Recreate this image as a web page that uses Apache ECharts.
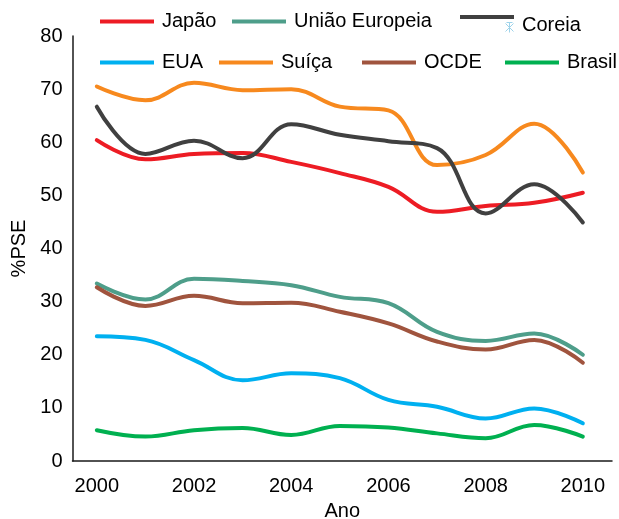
<!DOCTYPE html>
<html>
<head>
<meta charset="utf-8">
<script src="https://cdn.jsdelivr.net/npm/echarts@6/dist/echarts.min.js"></script>
<style>
  html, body { margin: 0; padding: 0; background: #fff; }
  #chart { width: 619px; height: 519px; }
</style>
</head>
<body>
<div id="chart"></div>
<script>
// Producer Support Estimate (%PSE) by country, 2000–2010
const years = [2000, 2001, 2002, 2003, 2004, 2005, 2006, 2007, 2008, 2009, 2010];

const japao   = [60.4, 56.8, 57.8, 58.0, 56.3, 54.2, 51.6, 46.9, 48.0, 48.6, 50.5];
const uniaoEu = [33.4, 30.4, 34.3, 33.9, 33.1, 30.9, 29.7, 24.3, 22.6, 24.0, 20.0];
const coreia  = [66.7, 57.8, 60.3, 57.0, 63.4, 61.4, 60.2, 58.9, 46.6, 52.1, 44.9];
const eua     = [23.5, 22.8, 19.0, 15.2, 16.5, 15.6, 11.5, 10.2, 8.0, 9.9, 7.1];
const suica   = [70.5, 67.9, 71.2, 69.8, 70.0, 66.7, 66.0, 55.7, 57.6, 63.5, 54.3];
const ocde    = [32.7, 29.2, 31.1, 29.7, 29.8, 28.1, 25.9, 22.5, 21.0, 22.8, 18.5];
const brasil  = [5.8, 4.6, 5.8, 6.2, 4.9, 6.6, 6.3, 5.2, 4.3, 6.8, 4.6];

const yTicks = [0, 10, 20, 30, 40, 50, 60, 70, 80];
const xTickYears = [2000, 2002, 2004, 2006, 2008, 2010];

const seriesDefs = [
  { name: 'Japão', values: japao, color: '#ED1C24' },
  { name: 'União Europeia', values: uniaoEu, color: '#4E9E8A' },
  { name: 'EUA', values: eua, color: '#00B0F0' },
  { name: 'Suíça', values: suica, color: '#F7891E' },
  { name: 'OCDE', values: ocde, color: '#A0543E' },
  { name: 'Brasil', values: brasil, color: '#00B050' },
  { name: 'Coreia', values: coreia, color: '#404040' }
];

const FONT = '"Liberation Sans", Arial, sans-serif';

// key line for the Coreia entry sits above its label: the path's box is
// 21 units tall with the bar at the top, so the label centres lower down
const coreiaIcon = 'path://M0,0L54,0L54,4L0,4Z M47,21L47,21';

// one legend block per entry, laid out in two rows
const legendSlots = [
  { name: 'Japão', left: 100, lineY: 21.5 },
  { name: 'União Europeia', left: 232, lineY: 21.5 },
  { name: 'Coreia', left: 460, lineY: 17, icon: coreiaIcon, iconH: 21 },
  { name: 'EUA', left: 100, lineY: 62.5 },
  { name: 'Suíça', left: 219, lineY: 62.5 },
  { name: 'OCDE', left: 362, lineY: 62.5 },
  { name: 'Brasil', left: 505, lineY: 62.5 }
];

const legends = legendSlots.map(s => {
  const common = {
    data: [s.name],
    left: s.left,
    padding: 0,
    selectedMode: false,
    itemStyle: { borderWidth: 0 },
    textStyle: {
      fontFamily: FONT,
      fontSize: 20,
      color: '#000',
      lineHeight: 20,
      padding: [0, 0, 0, 3]
    }
  };
  if (s.icon) {
    return Object.assign(common, {
      icon: s.icon,
      itemWidth: 54,
      itemHeight: s.iconH,
      top: s.lineY - 2
    });
  }
  return Object.assign(common, {
    icon: 'rect',
    itemWidth: 54,
    itemHeight: 4,
    top: s.lineY - 10
  });
});

const chart = echarts.init(document.getElementById('chart'), null, { renderer: 'canvas' });

chart.setOption({
  animation: false,
  backgroundColor: '#fff',
  legend: legends,
  grid: {
    left: 72.5, right: 7, top: 36, bottom: 58,
    containLabel: false,
    outerBoundsMode: 'none'
  },
  xAxis: {
    type: 'value',
    min: 1999.5,
    max: 2010.6,
    interval: 0.5,
    name: 'Ano',
    nameLocation: 'middle',
    nameGap: 40,
    nameTextStyle: { fontFamily: FONT, fontSize: 20, color: '#000' },
    axisLine: { show: true, lineStyle: { color: '#1a1a1a', width: 1.5 } },
    axisTick: { show: false },
    splitLine: { show: false },
    axisLabel: {
      fontFamily: FONT,
      fontSize: 20,
      color: '#000',
      margin: 15,
      showMaxLabel: false,
      formatter: v => {
        const r = Math.round(v);
        return (Math.abs(v - r) < 1e-6 && xTickYears.includes(r)) ? String(r) : '';
      }
    }
  },
  yAxis: {
    type: 'value',
    min: yTicks[0],
    max: yTicks[yTicks.length - 1],
    interval: yTicks[1] - yTicks[0],
    name: '%PSE',
    nameLocation: 'middle',
    nameGap: 39,
    nameTextStyle: { fontFamily: FONT, fontSize: 20, color: '#000' },
    axisLine: { show: true, lineStyle: { color: '#1a1a1a', width: 1.5 } },
    axisTick: { show: false },
    splitLine: { show: false },
    axisLabel: { fontFamily: FONT, fontSize: 20, color: '#000', margin: 10 }
  },
  series: seriesDefs.map(d => ({
    name: d.name,
    type: 'line',
    data: years.map((y, i) => [y, d.values[i]]),
    smooth: 0.4,
    showSymbol: false,
    symbol: 'none',
    lineStyle: { color: d.color, width: 4, cap: 'round' },
    itemStyle: { color: d.color }
  })),
  // small pale asterisk that sits under the Coreia legend key
  graphic: [{
    type: 'group',
    left: 503,
    top: 20,
    children: [
      { type: 'line', shape: { x1: 4, y1: 0, x2: 4, y2: 10 }, style: { stroke: '#9ED3EA', lineWidth: 1 } },
      { type: 'line', shape: { x1: 0, y1: 1, x2: 8, y2: 9 }, style: { stroke: '#9ED3EA', lineWidth: 1 } },
      { type: 'line', shape: { x1: 8, y1: 1, x2: 0, y2: 9 }, style: { stroke: '#9ED3EA', lineWidth: 1 } },
      { type: 'line', shape: { x1: 1, y1: 0, x2: 7, y2: 0 }, style: { stroke: '#9ED3EA', lineWidth: 1 } }
    ]
  }]
});
</script>
</body>
</html>
